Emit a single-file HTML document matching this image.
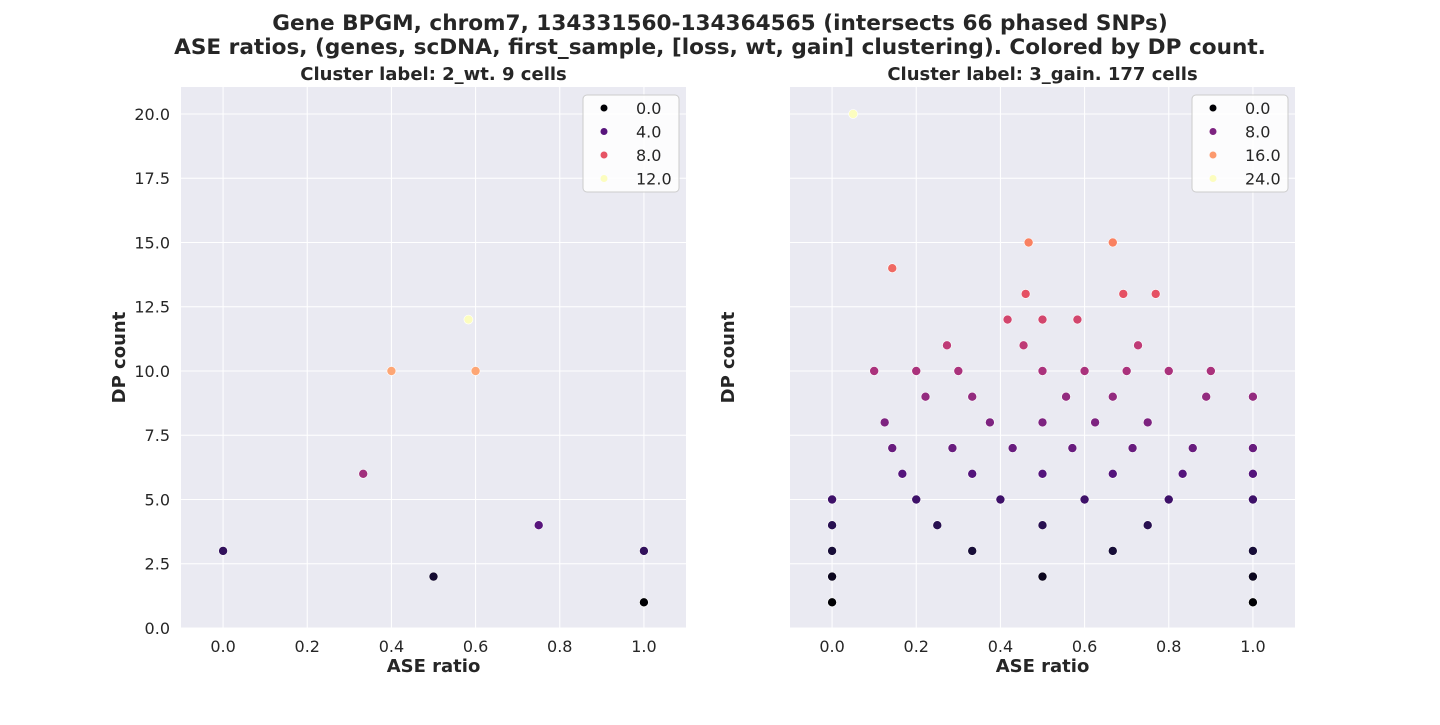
<!DOCTYPE html>
<html><head><meta charset="utf-8"><style>
body{margin:0;background:#fff;}
svg text{font-family:"DejaVu Sans","Liberation Sans",sans-serif;fill:#262626;}
</style></head><body>
<svg id="chart" width="1440" height="720" xmlns="http://www.w3.org/2000/svg">
<text x="720" y="30" text-anchor="middle" font-size="21.6" font-weight="bold">Gene BPGM, chrom7, 134331560-134364565 (intersects 66 phased SNPs)</text>
<text x="720" y="54" text-anchor="middle" font-size="21.6" font-weight="bold">ASE ratios, (genes, scDNA, first_sample, [loss, wt, gain] clustering). Colored by DP count.</text>
</svg>
<script>
const leftX=[0,0.333,0.4,0.6,0.583,0.5,0.75,1,1];
const leftY=[3,6,10,10,12,2,4,3,1];
const rightX=[0.05,0.143,0.467,0.667,0.46,0.692,0.769,0.417,0.5,0.583,0.455,0.273,0.727,
0.1,0.2,0.3,0.5,0.6,0.7,0.8,0.9,
0.222,0.333,0.556,0.667,0.889,1.0,
0.125,0.375,0.5,0.625,0.75,
0.143,0.286,0.429,0.571,0.714,0.857,1.0,
0.167,0.333,0.5,0.667,0.833,1.0,
0,0.2,0.4,0.6,0.8,1.0,
0,0.25,0.5,0.75,
0,0.333,0.667,1.0,
0,0.5,1.0,
0,1.0];
const rightY=[20,14,15,15,13,13,13,12,12,12,11,11,11,
10,10,10,10,10,10,10,10,
9,9,9,9,9,9,
8,8,8,8,8,
7,7,7,7,7,7,7,
6,6,6,6,6,6,
5,5,5,5,5,5,
4,4,4,4,
3,3,3,3,
2,2,2,
1,1];
const xTicks=[0,0.2,0.4,0.6,0.8,1.0];
const yTicks=[0,2.5,5,7.5,10,12.5,15,17.5,20];
const leftLegend=["0.0","4.0","8.0","12.0"];
const rightLegend=["0.0","8.0","16.0","24.0"];
const stops=[[0,0,0,4],[0.13,28,16,68],[0.25,79,18,123],[0.38,129,37,129],[0.5,181,54,122],[0.63,229,80,100],[0.75,251,135,97],[0.88,254,194,135],[1,252,253,191]];
function magma(t){t=Math.max(0,Math.min(1,t));for(let i=1;i<stops.length;i++){if(t<=stops[i][0]){const a=stops[i-1],b=stops[i],f=(t-a[0])/(b[0]-a[0]);return `rgb(${[1,2,3].map(k=>Math.round(a[k]+(b[k]-a[k])*f)).join(',')})`;}}return 'rgb(252,253,191)';}
const svg=document.getElementById('chart');const NS='http://www.w3.org/2000/svg';
function mk(tag,attrs,parent){const e=document.createElementNS(NS,tag);for(const k in attrs)e.setAttribute(k,attrs[k]);(parent||svg).appendChild(e);return e;}
const T=87,B=628,W=505,XMIN=-0.1,XMAX=1.1,YMIN=0,YMAX=21.05;
function panel(L,xs,ys,hmin,hmax,legend,title,showY,pname){
  const g=mk('g',{});
  
  
  const sx=v=>L+(v-XMIN)/(XMAX-XMIN)*W, sy=v=>B-(v-YMIN)/(YMAX-YMIN)*(B-T);
  const bg=mk('rect',{x:L,y:T,width:W,height:B-T,fill:'#eaeaf2'},g);
  
  
  xTicks.forEach(v=>{mk('line',{x1:sx(v),x2:sx(v),y1:T,y2:B,stroke:'#fff','stroke-width':1},g);
    const t=mk('text',{x:sx(v),y:B+24,'text-anchor':'middle','font-size':16},g);t.textContent=v.toFixed(1);
    
    });
  yTicks.forEach(v=>{mk('line',{x1:L,x2:L+W,y1:sy(v),y2:sy(v),stroke:'#fff','stroke-width':1},g);
    if(showY){const t=mk('text',{x:L-11,y:sy(v)+6,'text-anchor':'end','font-size':16},g);t.textContent=v.toFixed(1);
    
    }});
  const tt=mk('text',{x:L+W/2,y:80,'text-anchor':'middle','font-size':18,'font-weight':'bold'},g);tt.textContent=title;
  
  
  const xl=mk('text',{x:L+W/2,y:672,'text-anchor':'middle','font-size':18,'font-weight':'bold'},g);xl.textContent='ASE ratio';
  
  
  const yx=L-56,yy=(T+B)/2;
  const yl=mk('text',{x:yx,y:yy,'text-anchor':'middle','font-size':18,'font-weight':'bold',transform:`rotate(-90 ${yx} ${yy})`},g);yl.textContent='DP count';
  
  
  xs.forEach((x,i)=>{const c=mk('circle',{cx:sx(x),cy:sy(ys[i]),r:4.5,fill:magma((ys[i]-hmin)/(hmax-hmin)),stroke:'#fff','stroke-width':0.6},g);
    
    });
  const lx=L+W-103,ly=T+8;
  const lg=mk('rect',{x:lx,y:ly,width:96,height:97,rx:4,fill:'#fff','fill-opacity':0.85,stroke:'#ccc'},g);
  
  
  legend.forEach((s,i)=>{const v=parseFloat(s);
    mk('circle',{cx:lx+21,cy:ly+13+i*23.5,r:3.5,fill:magma((v-hmin)/(hmax-hmin))},g);
    const t=mk('text',{x:lx+53,y:ly+19+i*23.5,'font-size':16},g);t.textContent=s;
    
    });
}
panel(181,leftX,leftY,1,12,leftLegend,'Cluster label: 2_wt. 9 cells',true,'left-panel');
panel(790,rightX,rightY,1,20,rightLegend,'Cluster label: 3_gain. 177 cells',false,'right-panel');
</script>
</body></html>
